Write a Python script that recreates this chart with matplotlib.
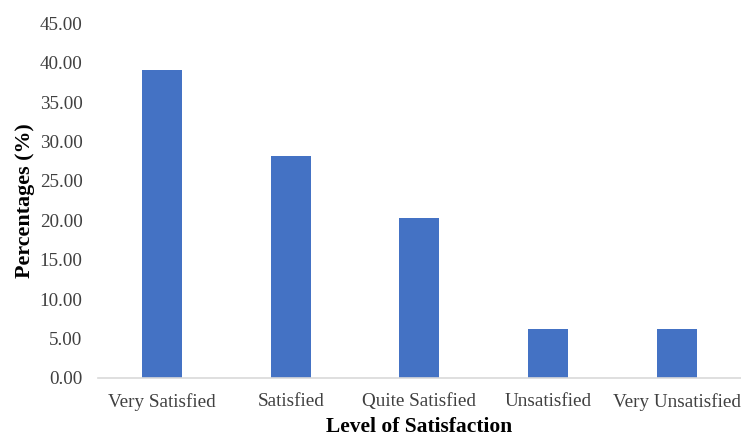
import matplotlib.pyplot as plt
from matplotlib.ticker import FormatStrFormatter

plt.rcParams['font.family'] = ['Liberation Serif', 'DejaVu Serif']

levels = ["Very Satisfied", "Satisfied", "Quite Satisfied", "Unsatisfied", "Very Unsatisfied"]
percent = [39.06, 28.13, 20.31, 6.25, 6.25]

fig = plt.figure(figsize=(7.41, 4.38), dpi=100)
ax = fig.add_axes([0.132, 0.137, 0.868, 0.81])

ax.bar(range(len(levels)), percent, width=0.31, color="#4472C4")

ax.set_xlim(-0.5, len(levels) - 0.5)
ax.set_ylim(0, 45)
ax.set_yticks(range(0, 46, 5))
ax.yaxis.set_major_formatter(FormatStrFormatter("%.2f"))
ax.set_xticks(range(len(levels)))
ax.set_xticklabels(levels)

for s in ["top", "right", "left"]:
    ax.spines[s].set_visible(False)
ax.spines["bottom"].set_color("#D9D9D9")
ax.spines["bottom"].set_linewidth(1.2)
ax.tick_params(axis="both", length=0, labelsize=13.8, colors="#404040")
ax.tick_params(axis="x", pad=11)
ax.tick_params(axis="y", pad=11)

ax.set_xlabel("Level of Satisfaction", fontsize=15.5, fontweight="bold", labelpad=4)
ax.set_ylabel("Percentages (%)", fontsize=15.8, fontweight="bold", labelpad=3)

fig.savefig("out.png", dpi=100)
